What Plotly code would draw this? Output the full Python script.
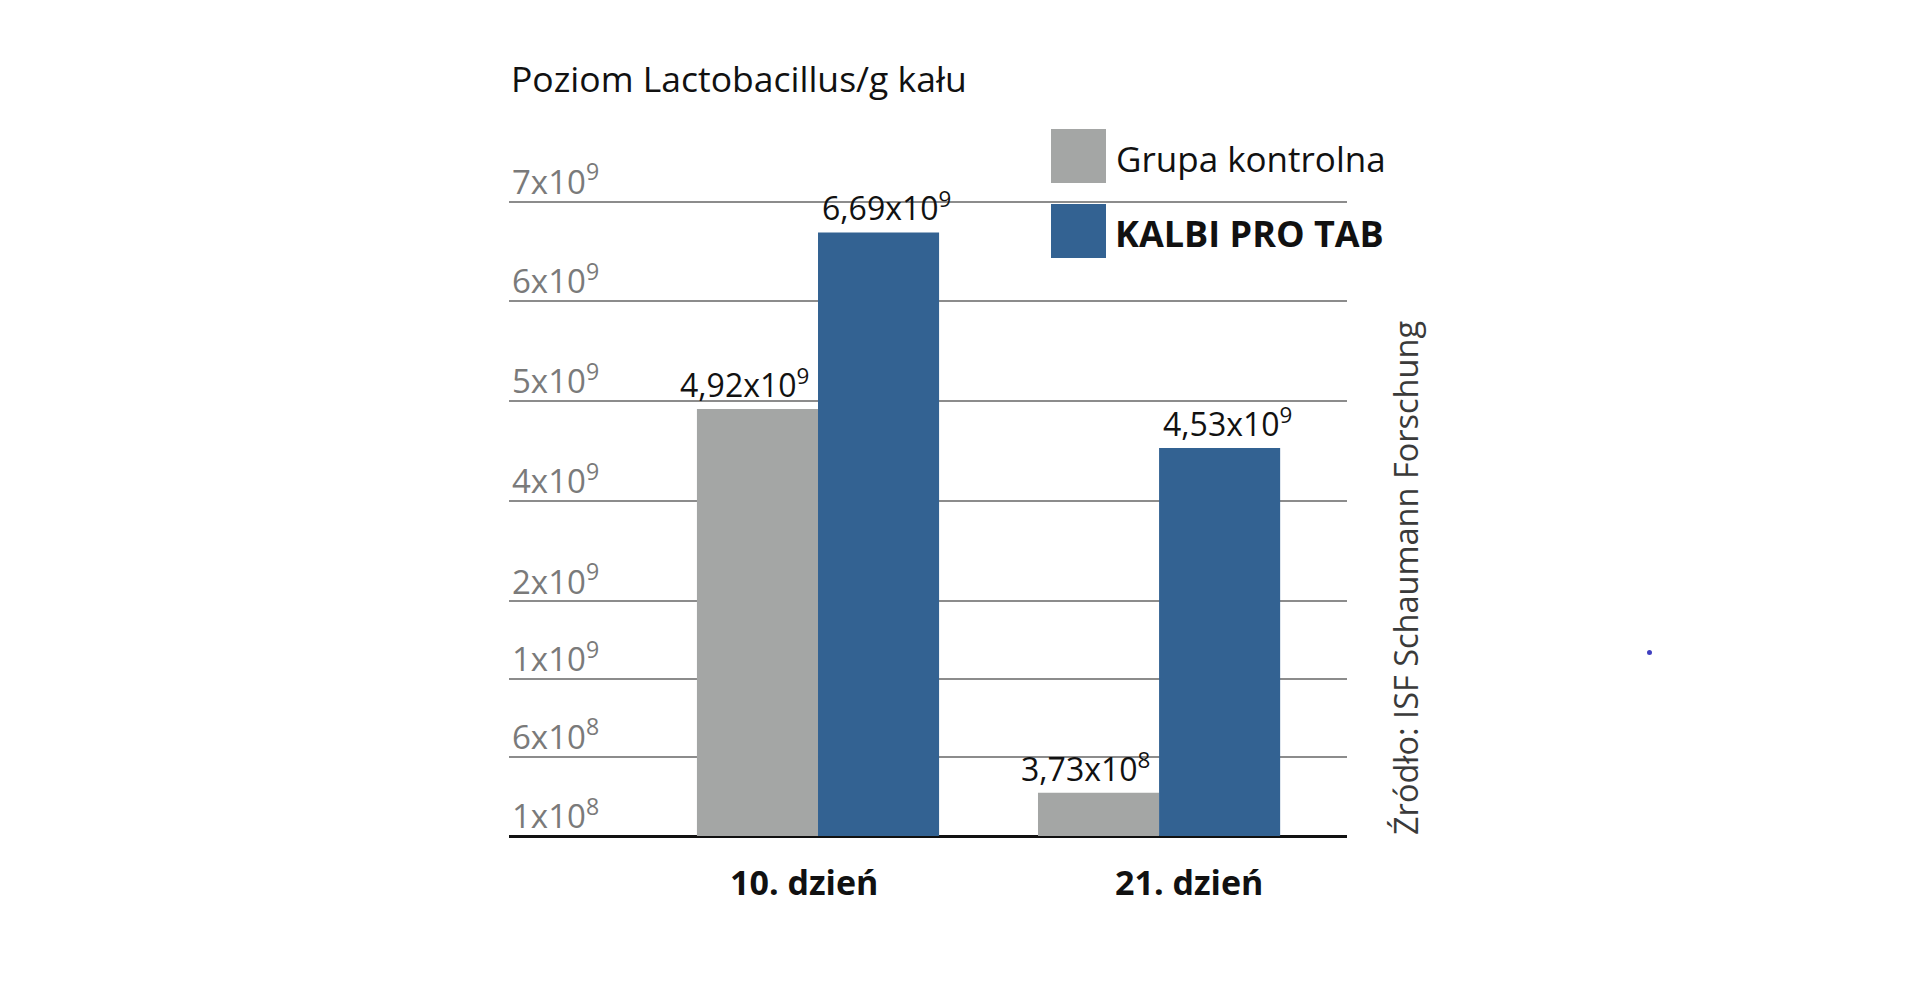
import numpy as np
import plotly.graph_objects as go

# ---------------- data ----------------
categories = ["10. dzień", "21. dzień"]
series_names = ["Grupa kontrolna", "KALBI PRO TAB"]
control_values = [4.92e9, 3.73e8]
kalbi_values = [6.69e9, 4.53e9]

# custom (broken) value axis of the original chart: tick values and where they sit
tick_values = [1e8, 6e8, 1e9, 2e9, 4e9, 5e9, 6e9, 7e9]
tick_positions = [0.0, 0.793, 1.57, 2.347, 3.35, 4.35, 5.35, 6.343]

title_text = "Poziom Lactobacillus/g kału"
source_text = "Źródło: ISF Schaumann Forschung"

# ---------------- helpers ----------------
def sci_label(v, decimals):
    e = int(np.floor(np.log10(v)))
    m = v / 10 ** e
    s = f"{m:.{decimals}f}".replace(".", ",")
    return f"{s}x10<sup>{e}</sup>"

def to_axis(vals):
    return list(np.interp(vals, tick_values, tick_positions))

tick_text = [sci_label(v, 0) for v in tick_values]

FONT = "Open Sans"
GRAY = "#a4a6a5"
BLUE = "#336292"

# page has an 8px body margin: figure is sized to fit inside the 1920x1000 window
OFF = 8
W, H = 1920 - 2 * OFF, 1000 - 2 * OFF
BASE = 836                                     # page y of the value-axis baseline
YLO = -0.1                                     # small room below baseline for the lowest tick label
PL, PR, PT = 509, 1347, 100
PB = BASE - YLO * 100                          # plot area bottom in page pixels
L, T = PL - OFF, PT - OFF
R, B = W - L - (PR - PL), H - T - (PB - PT)
PW, PH = PR - PL, PB - PT

def px(x):
    return (x - PL) / PW

def py(y):
    return (PB - y) / PH

fig = go.Figure()
label_shift = [-74, 68]
for i, (name, vals, color) in enumerate([(series_names[0], control_values, GRAY),
                                         (series_names[1], kalbi_values, BLUE)]):
    ys = to_axis(vals)
    fig.add_trace(go.Bar(
        name=name,
        x=categories,
        y=ys,
        marker=dict(color=color, line=dict(width=0)),
        hovertext=[f"{v:.3g}" for v in vals],
        hoverinfo="text+name",
    ))
    for cat, yv, v in zip(categories, ys, vals):
        fig.add_annotation(text=sci_label(v, 2), xref="x", yref="y", x=cat, y=yv,
                           xshift=label_shift[i], yshift=1, xanchor="center", yanchor="bottom",
                           showarrow=False,
                           font=dict(family=FONT, size=32, color="#111111"))

annotations = [
    dict(text=title_text, xref="paper", yref="paper", x=0, y=py(78),
         xanchor="left", yanchor="middle", showarrow=False,
         font=dict(family=FONT, size=35.5, color="#111111")),
    dict(text=series_names[0], xref="paper", yref="paper", x=px(1114), y=py(158),
         xanchor="left", yanchor="middle", showarrow=False,
         font=dict(family=FONT, size=35, color="#111111")),
    dict(text="<b>" + series_names[1] + "</b>", xref="paper", yref="paper", x=px(1113), y=py(233),
         xanchor="left", yanchor="middle", showarrow=False,
         font=dict(family=FONT, size=36, color="#111111")),
    dict(text=source_text, xref="paper", yref="paper", x=px(1405), y=py(578),
         xanchor="center", yanchor="middle", showarrow=False, textangle=-90,
         font=dict(family=FONT, size=32.5, color="#3a3a3a")),
]
for cat, shift in zip(categories, [-14, 30]):
    annotations.append(dict(text="<b>" + cat + "</b>", xref="x", yref="paper", x=cat, y=py(882),
                            xshift=shift, xanchor="center", yanchor="middle", showarrow=False,
                            font=dict(family=FONT, size=34, color="#111111")))

shapes = [
    dict(type="rect", xref="paper", yref="paper", x0=px(1051), x1=px(1106),
         y0=py(183), y1=py(129), fillcolor=GRAY, line=dict(width=0)),
    dict(type="rect", xref="paper", yref="paper", x0=px(1051), x1=px(1106),
         y0=py(258), y1=py(204), fillcolor=BLUE, line=dict(width=0)),
    dict(type="circle", xref="paper", yref="paper", x0=px(1647), x1=px(1652),
         y0=py(655), y1=py(650), fillcolor="#4040c0", line=dict(width=0)),
]

for a in annotations:
    fig.add_annotation(**a)

fig.update_layout(
    width=W, height=H,
    margin=dict(l=L, r=R, t=T, b=B, pad=0),
    paper_bgcolor="white", plot_bgcolor="white",
    barmode="group", bargap=0.29, bargroupgap=0,
    showlegend=False,
    font=dict(family=FONT),
    shapes=shapes,
    xaxis=dict(type="category", range=[-0.906, 1.551], showgrid=False, zeroline=False,
               showline=False, showticklabels=False, ticks=""),
    yaxis=dict(range=[YLO, (BASE - PT) / 100], tickmode="array", tickvals=tick_positions,
               ticktext=tick_text, ticklabelposition="inside top", ticklabelshift=4,
               tickfont=dict(family=FONT, size=33, color="#7a7a7a"),
               showgrid=True, gridcolor="#8c8c8c", gridwidth=2,
               zeroline=True, zerolinecolor="#111111", zerolinewidth=2.5,
               showline=False, ticks=""),
)

fig.write_html("out.html")
